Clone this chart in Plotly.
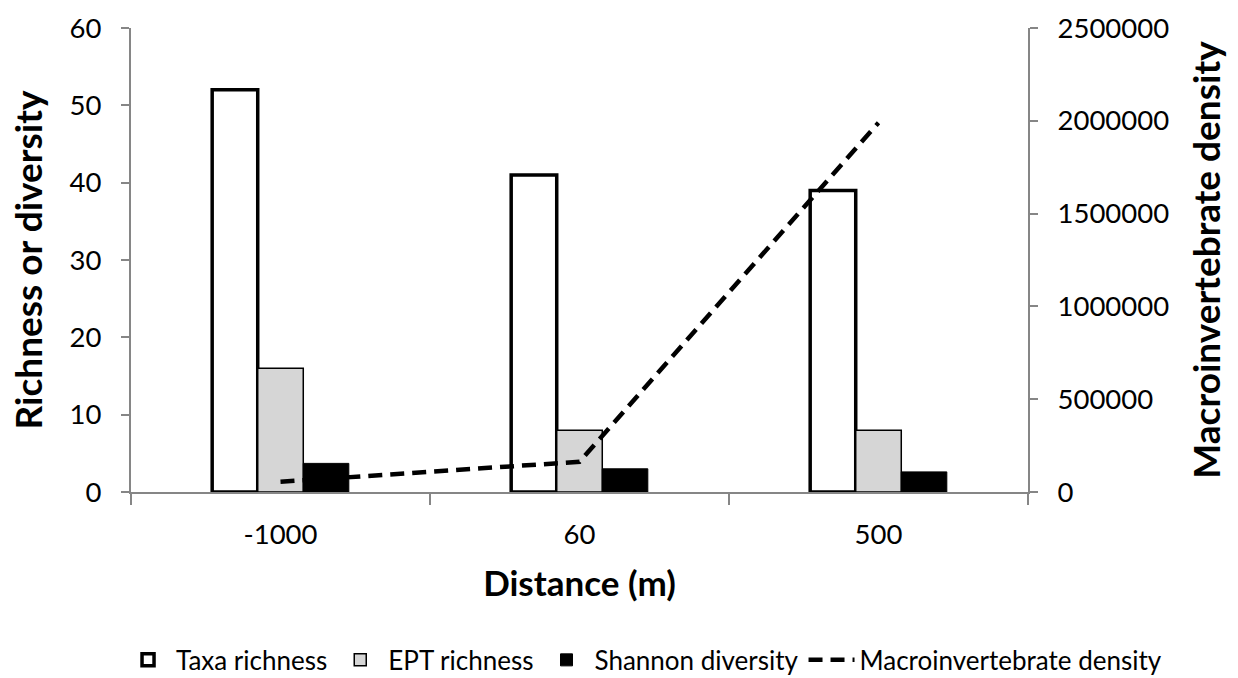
import plotly.graph_objects as go

# Sampling distances along the stream
distance = ["-1000", "60", "500"]

# Community metrics (left axis)
taxa_richness = [52, 41, 39]
ept_richness = [16, 8, 8]
shannon_diversity = [3.7, 3.0, 2.6]

# Density (right axis)
macro_density = [55000, 163000, 1990000]

FONT = "Lato"
AXIS_GREY = "#868686"

fig = go.Figure()

fig.add_trace(go.Bar(
    x=distance, y=taxa_richness, name="Taxa richness",
    marker=dict(color="white", line=dict(color="black", width=3.5)),
))
fig.add_trace(go.Bar(
    x=distance, y=ept_richness, name="EPT richness",
    marker=dict(color="#d6d6d6", line=dict(color="black", width=1.5)),
))
fig.add_trace(go.Bar(
    x=distance, y=shannon_diversity, name="Shannon diversity",
    marker=dict(color="black", line=dict(color="black", width=1)),
))
fig.add_trace(go.Scatter(
    x=distance, y=macro_density, name="Macroinvertebrate density",
    yaxis="y2", mode="lines",
    line=dict(color="black", width=4.5, dash="14px,8px"),
))

fig.update_layout(
    width=1238, height=678,
    margin=dict(l=131, r=210, t=28, b=186, autoexpand=False),
    paper_bgcolor="white", plot_bgcolor="white",
    font=dict(family=FONT, color="black", size=27.5),
    barmode="group", bargap=0.543, bargroupgap=0,
    showlegend=True,
    legend=dict(
        orientation="h",
        x=1.155, xanchor="right", y=-0.362, yanchor="middle",
        font=dict(size=26, family=FONT), itemwidth=46, traceorder="normal",
        bgcolor="rgba(0,0,0,0)",
    ),
    xaxis=dict(
        type="category", tickson="boundaries",
        showline=True, linecolor=AXIS_GREY, linewidth=2,
        ticks="outside", ticklen=11, tickcolor=AXIS_GREY, tickwidth=2,
        tickfont=dict(size=27.5), ticklabelstandoff=17,
        title=dict(text="<b>Distance (m)</b>", font=dict(size=35), standoff=22),
        showgrid=False, zeroline=False,
    ),
    yaxis=dict(
        range=[0, 60], dtick=10,
        showline=True, linecolor=AXIS_GREY, linewidth=2,
        ticks="outside", ticklen=8, tickcolor=AXIS_GREY, tickwidth=2,
        tickfont=dict(size=27.5), ticklabelstandoff=14,
        title=dict(text="<b>Richness or diversity</b>", font=dict(size=37), standoff=16),
        showgrid=False, zeroline=False,
    ),
    yaxis2=dict(
        overlaying="y", side="right", range=[0, 2500000], dtick=500000,
        tickformat="d",
        showline=True, linecolor=AXIS_GREY, linewidth=2,
        ticks="outside", ticklen=8, tickcolor=AXIS_GREY, tickwidth=2,
        tickfont=dict(size=27.5), ticklabelstandoff=14,
        title=dict(text="<b>Macroinvertebrate density</b>", font=dict(size=37), standoff=26),
        showgrid=False, zeroline=False,
    ),
)

fig.write_html("out.html")
